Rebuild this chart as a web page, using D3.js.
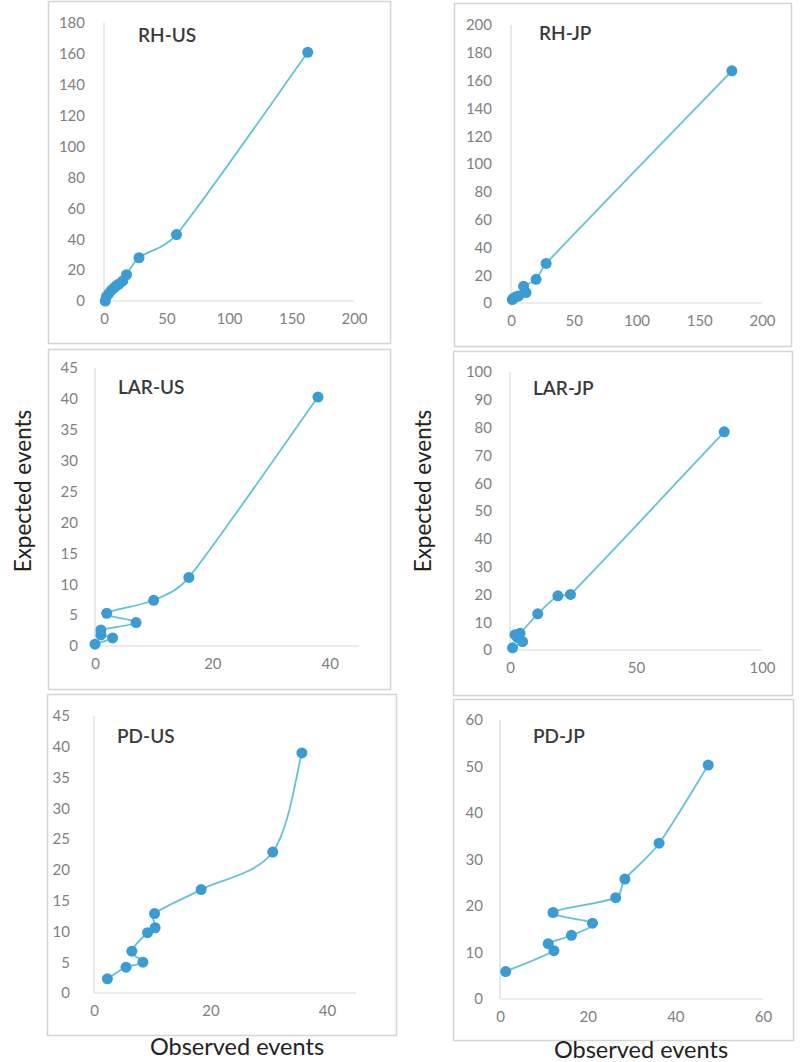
<!DOCTYPE html>
<html>
<head>
<meta charset="utf-8">
<script src="https://cdn.jsdelivr.net/npm/d3@7/dist/d3.min.js"></script>
<style>
  html, body { margin: 0; padding: 0; background: #ffffff; }
  svg { display: block; }
</style>
</head>
<body>
<svg id="chart" width="800" height="1062"></svg>
<script>
// ---------------- data ----------------
const panelTitles = ["RH-US", "RH-JP", "LAR-US", "LAR-JP", "PD-US", "PD-JP"];

const rhUsObserved = [1, 2, 4, 6, 8, 10, 12, 15, 18, 28, 58, 163];
const rhUsExpected = [0, 3, 5, 7, 8.5, 10, 11, 13, 17, 28, 43, 161];

const rhJpObserved = [1, 2, 4, 6, 12, 10, 20, 28, 176];
const rhJpExpected = [2.5, 3.5, 4.5, 5, 7.5, 12, 17, 28.5, 167];

const larUsObserved = [0, 3, 1, 1, 7, 2, 10, 16, 38];
const larUsExpected = [0.3, 1.3, 1.8, 2.6, 3.8, 5.3, 7.4, 11.1, 40.3];

const larJpObserved = [1, 5, 3, 2, 4, 11, 19, 24, 85];
const larJpExpected = [0.8, 3, 4.5, 5.5, 6, 13, 19.5, 20, 78.5];

const pdUsObserved = [2.3, 5.5, 8.4, 6.5, 9.2, 10.5, 10.4, 18.4, 30.7, 35.7];
const pdUsExpected = [2.3, 4.2, 5.0, 6.8, 9.8, 10.6, 12.9, 16.8, 22.9, 39.0];

const pdJpObserved = [1.3, 12.3, 11, 16.3, 21.1, 12.1, 26.4, 28.5, 36.3, 47.5];
const pdJpExpected = [5.9, 10.4, 11.9, 13.7, 16.3, 18.6, 21.8, 25.8, 33.5, 50.3];

const rhUsXTicks = [0, 50, 100, 150, 200];
const rhUsYTicks = [0, 20, 40, 60, 80, 100, 120, 140, 160, 180];
const rhJpXTicks = [0, 50, 100, 150, 200];
const rhJpYTicks = [0, 20, 40, 60, 80, 100, 120, 140, 160, 180, 200];
const larUsXTicks = [0, 20, 40];
const larUsYTicks = [0, 5, 10, 15, 20, 25, 30, 35, 40, 45];
const larJpXTicks = [0, 50, 100];
const larJpYTicks = [0, 10, 20, 30, 40, 50, 60, 70, 80, 90, 100];
const pdUsXTicks = [0, 20, 40];
const pdUsYTicks = [0, 5, 10, 15, 20, 25, 30, 35, 40, 45];
const pdJpXTicks = [0, 20, 40, 60];
const pdJpYTicks = [0, 10, 20, 30, 40, 50, 60];

const xDomains = [[0, 200], [0, 200], [0, 45], [0, 100], [0, 45], [0, 60]];
const yDomains = [[0, 180], [0, 200], [0, 45], [0, 100], [0, 45], [0, 60]];

const yAxisTitle = "Expected events";
const xAxisTitle = "Observed events";

// ---------------- layout (pixels) ----------------
const layout = [
  { box: [48, 1, 390, 343],   x: [104, 354], y: [301, 23],  gap: 19, title: [138, 42] },
  { box: [454, 3, 791, 346],  x: [511, 762], y: [303, 25],  gap: 19, title: [539, 40] },
  { box: [48, 349, 390, 689], x: [95, 359],  y: [646, 368], gap: 17, title: [118, 394] },
  { box: [453, 351, 792, 695],x: [510, 762], y: [650, 372], gap: 18, title: [533, 395] },
  { box: [47, 694, 396, 1035],x: [94, 356],  y: [993, 716], gap: 24, title: [117, 743] },
  { box: [453, 699, 793, 1040],x: [500, 763],y: [999, 720], gap: 17, title: [533, 743] }
];

const series = [
  { obs: rhUsObserved,  exp: rhUsExpected,  xt: rhUsXTicks,  yt: rhUsYTicks },
  { obs: rhJpObserved,  exp: rhJpExpected,  xt: rhJpXTicks,  yt: rhJpYTicks },
  { obs: larUsObserved, exp: larUsExpected, xt: larUsXTicks, yt: larUsYTicks },
  { obs: larJpObserved, exp: larJpExpected, xt: larJpXTicks, yt: larJpYTicks },
  { obs: pdUsObserved,  exp: pdUsExpected,  xt: pdUsXTicks,  yt: pdUsYTicks },
  { obs: pdJpObserved,  exp: pdJpExpected,  xt: pdJpXTicks,  yt: pdJpYTicks }
];

const FONT = "Lato, 'Open Sans', 'DejaVu Sans', sans-serif";
const lineColor = "#63c3d6";
const markerColor = "#3a9cd3";
const axisColor = "#d9d9d9";
const tickColor = "#7f7f7f";

// Spreadsheet-style smoothed line: cubic Bezier, Catmull-Rom tangents
// with the control arm limited relative to the segment length.
function smoothPath(P) {
  const p = d3.path();
  if (!P.length) return "";
  p.moveTo(P[0][0], P[0][1]);
  const n = P.length;
  for (let i = 0; i < n - 1; i++) {
    const P0 = P[Math.max(0, i - 1)], P1 = P[i], P2 = P[i + 1], P3 = P[Math.min(n - 1, i + 2)];
    const seg = Math.hypot(P2[0] - P1[0], P2[1] - P1[1]);
    const t1 = [P2[0] - P0[0], P2[1] - P0[1]], l1 = Math.hypot(t1[0], t1[1]) || 1;
    const t2 = [P3[0] - P1[0], P3[1] - P1[1]], l2 = Math.hypot(t2[0], t2[1]) || 1;
    const a1 = Math.min(l1 / 6, seg * 0.4), a2 = Math.min(l2 / 6, seg * 0.4);
    p.bezierCurveTo(
      P1[0] + t1[0] / l1 * a1, P1[1] + t1[1] / l1 * a1,
      P2[0] - t2[0] / l2 * a2, P2[1] - t2[1] / l2 * a2,
      P2[0], P2[1]);
  }
  return p.toString();
}

const svg = d3.select("#chart");

panelTitles.forEach((title, i) => {
  const L = layout[i];
  const S = series[i];
  const g = svg.append("g");

  // panel frame
  g.append("rect")
    .attr("x", L.box[0] + 0.5).attr("y", L.box[1] + 0.5)
    .attr("width", L.box[2] - L.box[0]).attr("height", L.box[3] - L.box[1])
    .attr("fill", "#ffffff").attr("stroke", "#d4d4d4").attr("stroke-width", 1.5);

  const x = d3.scaleLinear().domain(xDomains[i]).range(L.x);
  const y = d3.scaleLinear().domain(yDomains[i]).range(L.y);

  // axis lines
  g.append("line")
    .attr("x1", x(xDomains[i][0])).attr("x2", x(xDomains[i][0]))
    .attr("y1", y(yDomains[i][0])).attr("y2", y(yDomains[i][1]))
    .attr("stroke", axisColor).attr("stroke-width", 1.2);
  g.append("line")
    .attr("x1", x(xDomains[i][0])).attr("x2", x(xDomains[i][1]))
    .attr("y1", y(yDomains[i][0])).attr("y2", y(yDomains[i][0]))
    .attr("stroke", axisColor).attr("stroke-width", 1.2);

  // y axis labels
  const yAxis = g.append("g")
    .attr("transform", `translate(${x(xDomains[i][0])},0)`)
    .call(d3.axisLeft(y).tickValues(S.yt).tickSize(0).tickPadding(L.gap).tickFormat(d3.format("d")));
  yAxis.select(".domain").remove();
  yAxis.selectAll("text").attr("fill", tickColor).style("font-family", FONT).style("font-size", "15px");

  // x axis labels
  const xAxis = g.append("g")
    .attr("transform", `translate(0,${y(yDomains[i][0])})`)
    .call(d3.axisBottom(x).tickValues(S.xt).tickSize(0).tickPadding(12).tickFormat(d3.format("d")));
  xAxis.select(".domain").remove();
  xAxis.selectAll("text").attr("fill", tickColor).style("font-family", FONT).style("font-size", "15px");

  // title
  g.append("text")
    .attr("x", L.title[0]).attr("y", L.title[1])
    .attr("fill", "#3a3a3a")
    .style("font-family", FONT).style("font-size", "19px").style("font-weight", "600")
    .text(title);

  const pts = S.obs.map((o, k) => [o, S.exp[k]]);

  // smoothed line
  g.append("path")
    .attr("fill", "none")
    .attr("stroke", lineColor)
    .attr("stroke-width", 1.8)
    .attr("d", smoothPath(pts.map(d => [x(d[0]), y(d[1])])));

  // markers
  g.selectAll("circle.m")
    .data(pts)
    .join("circle")
    .attr("class", "m")
    .attr("cx", d => x(d[0]))
    .attr("cy", d => y(d[1]))
    .attr("r", 5.5)
    .attr("fill", markerColor);
});

// axis titles
[[22, 491], [422, 491]].forEach(p => {
  svg.append("text")
    .attr("transform", `translate(${p[0]},${p[1]}) rotate(-90)`)
    .attr("text-anchor", "middle")
    .attr("dominant-baseline", "central")
    .attr("fill", "#222")
    .style("font-family", FONT).style("font-size", "22.5px")
    .text(yAxisTitle);
});
[[237, 1055], [641, 1058]].forEach(p => {
  svg.append("text")
    .attr("x", p[0]).attr("y", p[1])
    .attr("text-anchor", "middle")
    .attr("fill", "#222")
    .style("font-family", FONT).style("font-size", "23.5px")
    .text(xAxisTitle);
});
</script>
</body>
</html>
